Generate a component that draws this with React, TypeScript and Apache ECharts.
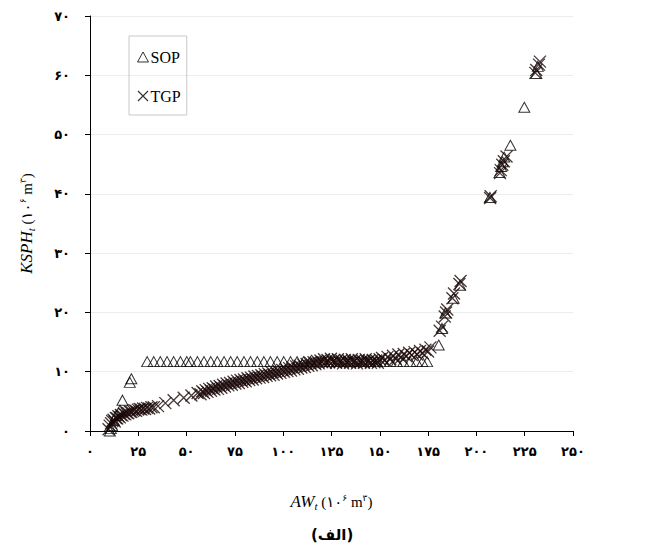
import React, { useEffect, useRef } from "react";
import * as echarts from "echarts";

const xTickLabels = ["۰", "۲۵", "۵۰", "۷۵", "۱۰۰", "۱۲۵", "۱۵۰", "۱۷۵", "۲۰۰", "۲۲۵", "۲۵۰"];
const yTickLabels = ["۰", "۱۰", "۲۰", "۳۰", "۴۰", "۵۰", "۶۰", "۷۰"];
const seriesNames = ["SOP", "TGP"];

// SOP (triangles)
const sopPoints: [number, number][] = [
  [10.3, 0], [10.8, 0.4], [11.5, 0.9], [12.3, 1.8], [13.5, 2.6], [15.5, 3.5], [16.8, 5.2], [20.6, 8.2], [21.4, 8.8],
  [29.6, 11.7], [33.0, 11.7], [36.4, 11.7], [39.9, 11.7], [43.3, 11.7], [46.8, 11.7], [50.1, 11.7], [52.0, 11.7],
  [55.6, 11.7], [59.0, 11.7], [62.5, 11.7], [65.9, 11.7], [69.4, 11.7], [72.8, 11.7], [76.2, 11.7], [79.7, 11.7],
  [83.1, 11.7], [86.6, 11.7], [90.0, 11.7], [93.4, 11.7], [96.9, 11.7], [100.3, 11.7], [103.8, 11.7], [107.2, 11.7],
  [110.6, 11.7], [114.1, 11.7], [117.5, 11.7], [121.0, 11.7], [124.4, 11.7], [127.8, 11.7], [131.3, 11.7], [134.7, 11.7],
  [138.2, 11.7], [141.6, 11.7], [145.0, 11.7], [148.5, 11.7], [151.9, 11.7], [155.4, 11.7], [158.8, 11.7], [162.2, 11.7],
  [165.7, 11.7], [169.1, 11.7], [172.0, 11.7], [174.5, 11.7],
  [180.5, 14.5], [182.2, 17.3], [183.9, 19.9], [188.2, 22.4], [191.6, 24.6],
  [207.0, 39.4], [212.0, 43.6], [212.8, 44.6], [213.6, 45.4], [214.4, 46.2], [217.6, 48.2], [224.8, 54.6], [231.0, 60.3], [231.8, 61.5],
];

// TGP (crosses)
const tgpPoints: [number, number][] = [
  [9.6, 0.3], [10.2, 0.9], [10.9, 1.3], [11.5, 1.7], [12.2, 1.9], [12.8, 1.6], [13.4, 2.2], [14.1, 2.1], [14.7, 2.5],
  [15.4, 2.3], [16.0, 2.7], [16.8, 2.6], [17.5, 2.9], [18.3, 2.8], [19.0, 3.1], [19.8, 3.0], [20.6, 3.3], [21.4, 3.2],
  [22.2, 3.4], [23.0, 3.5], [23.9, 3.4], [24.8, 3.6], [25.7, 3.7], [26.6, 3.6], [27.5, 3.8], [28.5, 3.7], [29.5, 3.9],
  [30.6, 3.8], [31.8, 4.0], [33.0, 4.0],
  [35.2, 4.2], [39.0, 4.7], [43.3, 5.2], [48.5, 5.6], [52.5, 6.0], [55.7, 6.4],
  [57.2, 6.2], [58.1, 6.7], [59.0, 6.4], [59.9, 6.9], [60.8, 6.6], [61.7, 7.1], [62.6, 6.8], [63.5, 7.2], [64.4, 7.0],
  [65.3, 7.5], [66.2, 7.1], [67.1, 7.6], [68.0, 7.3], [68.9, 7.8], [69.8, 7.5], [70.7, 8.0], [71.6, 7.7], [72.5, 8.1],
  [73.4, 7.8], [74.3, 8.3], [75.2, 8.0], [76.1, 8.5], [77.0, 8.1], [77.9, 8.6], [78.8, 8.3], [79.7, 8.7], [80.6, 8.4],
  [81.5, 8.9], [82.4, 8.6], [83.3, 9.0], [84.2, 8.7], [85.1, 9.2], [86.0, 8.9], [86.9, 9.3], [87.8, 9.0], [88.7, 9.4],
  [89.6, 9.1], [90.5, 9.6], [91.4, 9.3], [92.3, 9.7], [93.2, 9.4], [94.1, 9.9], [95.0, 9.5], [95.9, 10.0], [96.8, 9.7],
  [97.7, 10.1], [98.6, 9.8], [99.5, 10.3], [100.4, 10.0], [101.3, 10.4], [102.2, 10.1], [103.1, 10.6], [104.0, 10.2],
  [104.9, 10.7], [105.8, 10.4], [106.7, 10.9], [107.6, 10.5], [108.5, 11.0], [109.4, 10.7], [110.3, 11.2], [111.2, 10.8],
  [112.1, 11.3], [113.0, 11.0], [113.9, 11.5], [114.8, 11.1], [115.7, 11.6], [116.6, 11.3], [117.5, 11.8], [118.4, 11.4],
  [119.3, 11.9],
  [120.2, 11.6], [121.1, 12.1], [122.0, 11.5], [122.9, 12.0], [123.8, 11.6], [124.7, 12.2], [125.6, 11.7], [126.5, 12.0],
  [127.4, 11.5], [128.3, 12.1], [129.2, 11.6], [130.1, 11.9], [131.0, 11.4], [131.9, 12.0], [132.8, 11.6], [133.7, 11.9],
  [134.6, 11.5], [135.5, 12.1], [136.4, 11.6], [137.3, 11.9], [138.2, 11.4], [139.1, 12.0], [140.0, 11.6], [140.9, 11.9],
  [141.8, 11.5], [142.7, 12.1], [143.6, 11.7], [144.5, 11.9], [145.4, 11.5], [146.3, 12.0], [147.2, 11.6], [148.1, 11.9],
  [149.0, 11.5], [149.9, 12.1],
  [151.2, 12.3], [152.6, 11.9], [154.0, 12.5], [155.4, 12.1], [156.8, 12.7], [158.2, 12.2], [159.6, 12.9], [161.0, 12.4],
  [162.4, 13.0], [163.8, 12.6], [165.2, 13.2], [166.6, 12.8], [168.0, 13.3], [169.4, 12.9], [170.8, 13.5], [172.2, 13.1],
  [173.6, 13.7], [175.0, 13.4], [176.2, 14.1],
  [181.0, 16.9], [182.2, 17.6], [183.6, 19.3], [184.3, 20.0], [184.9, 20.5], [187.6, 22.4], [188.4, 23.2], [191.2, 24.8], [191.8, 25.3],
  [207.1, 39.3], [207.4, 39.6], [212.2, 43.5], [212.6, 44.0], [213.4, 44.9], [214.2, 45.5], [215.6, 46.3],
  [230.5, 60.4], [231.0, 60.9], [232.4, 61.8], [232.9, 62.3],
];

const CROSS = "path://M0,0L10,10M0,10L10,0";
const SERIF = "'Liberation Serif', 'Times New Roman', 'DejaVu Serif', serif";
const ARABIC = "'DejaVu Sans', 'Noto Sans', sans-serif";

export default function App() {
  const ref = useRef<HTMLDivElement>(null);
  useEffect(() => {
    if (!ref.current) return;
    const chart = echarts.init(ref.current, null, { renderer: "svg" });
    const titleRich = {
      i: { fontFamily: SERIF, fontStyle: "italic", fontSize: 17, color: "#000" },
      sub: { fontFamily: SERIF, fontStyle: "italic", fontSize: 11, color: "#000", padding: [8, 0, 0, 0] },
      n: { fontFamily: SERIF + ", " + ARABIC, fontSize: 15, color: "#000" },
      sup: { fontFamily: ARABIC, fontSize: 9, color: "#000", padding: [0, 0, 8, 0] },
    };
    chart.setOption({
      animation: false,
      backgroundColor: "#fff",
      grid: { left: 90, top: 16, right: 72, bottom: 121, containLabel: false },
      legend: {
        orient: "vertical",
        left: 129,
        top: 36,
        padding: [13, 6, 11, 6],
        itemGap: 23,
        itemWidth: 11,
        itemHeight: 10,
        borderColor: "#c8c8c8",
        borderWidth: 1,
        textStyle: { fontFamily: SERIF, fontSize: 16, color: "#000", padding: [0, 0, 0, -3] },
        data: [
          { name: seriesNames[0], icon: "triangle", itemStyle: { color: "none", borderColor: "#000", borderWidth: 1 } },
          { name: seriesNames[1], icon: CROSS, itemStyle: { color: "none", borderColor: "#000", borderWidth: 1.2 } },
        ],
      },
      xAxis: {
        type: "value",
        min: 0,
        max: 250,
        interval: 25,
        name: "{i|AW}{sub|t}{n| (۱۰}{sup|۶}{n| m}{sup|۳}{n|)}",
        nameLocation: "middle",
        nameGap: 61,
        nameTextStyle: { rich: titleRich },
        axisLine: { show: true, lineStyle: { color: "#000", width: 1 } },
        axisTick: { show: true, inside: false, length: 5, lineStyle: { color: "#000" } },
        splitLine: { show: false },
        axisLabel: {
          margin: 14,
          fontFamily: ARABIC,
          fontSize: 13,
          fontWeight: "bold",
          color: "#000",
          formatter: (v: number) => xTickLabels[Math.round(v / 25)] ?? "",
        },
      },
      yAxis: {
        type: "value",
        min: 0,
        max: 70,
        interval: 10,
        name: "{i|KSPH}{sub|t}{n| (۱۰}{sup|۶}{n| m}{sup|۳}{n|)}",
        nameLocation: "middle",
        nameRotate: 90,
        nameGap: 54,
        nameTextStyle: { rich: titleRich },
        axisLine: { show: true, lineStyle: { color: "#000", width: 1 } },
        axisTick: { show: true, inside: false, length: 5, lineStyle: { color: "#000" } },
        splitLine: { show: true, lineStyle: { color: "#ececec", width: 1 } },
        axisLabel: {
          margin: 20,
          fontFamily: ARABIC,
          fontSize: 13,
          fontWeight: "bold",
          color: "#000",
          formatter: (v: number) => yTickLabels[Math.round(v / 10)] ?? "",
        },
      },
      graphic: [
        {
          type: "text",
          left: 311,
          top: 527,
          style: { text: "(الف)", font: "bold 15px 'DejaVu Sans', sans-serif", fill: "#000" },
        },
      ],
      series: [
        {
          name: seriesNames[0],
          type: "scatter",
          symbol: "triangle",
          symbolSize: [11, 10],
          itemStyle: { color: "none", borderColor: "#000", borderWidth: 1 },
          data: sopPoints,
        },
        {
          name: seriesNames[1],
          type: "scatter",
          symbol: CROSS,
          symbolSize: 12,
          itemStyle: { color: "none", borderColor: "#1a0808", borderWidth: 1.3 },
          data: tgpPoints,
        },
      ],
    });
    return () => chart.dispose();
  }, []);
  return <div ref={ref} style={{ width: 645, height: 552, position: "absolute", left: 0, top: 0 }} />;
}
